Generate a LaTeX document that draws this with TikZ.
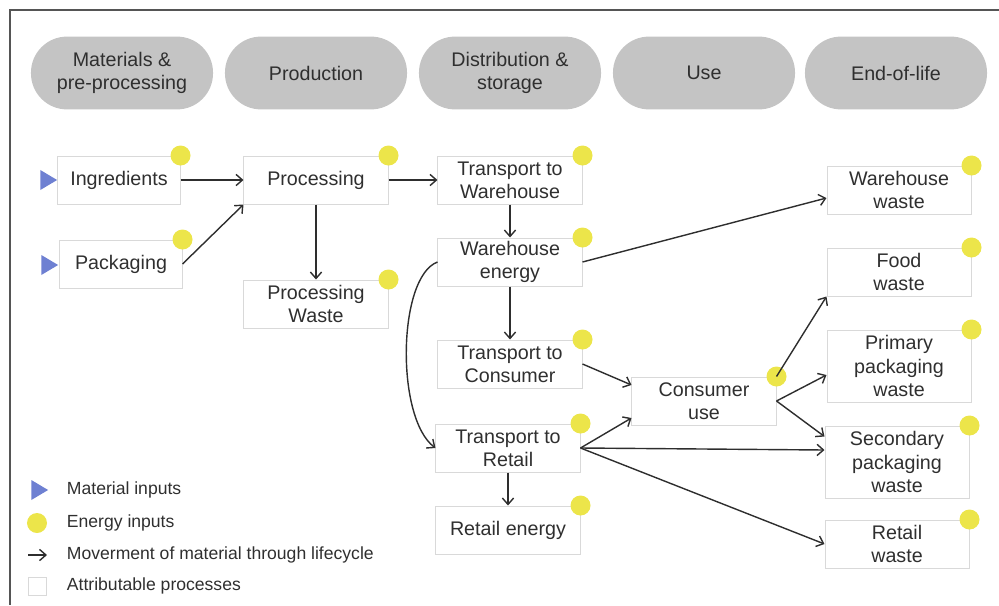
\documentclass[tikz,border=0pt]{standalone}
\usepackage{fontspec}
\setmainfont{Liberation Sans}
\usepackage{tikz}
\usetikzlibrary{arrows,arrows.meta,positioning,calc,shapes.geometric}

\definecolor{pillgray}{HTML}{C4C4C4}
\definecolor{boxgray}{HTML}{D9D9D9}
\definecolor{txtgray}{HTML}{2F2F2F}
\definecolor{linegray}{HTML}{2E2E2E}
\definecolor{framegray}{HTML}{555555}
\definecolor{dotyellow}{HTML}{ECE54A}
\definecolor{matblue}{HTML}{6E80D2}

\begin{document}
\begin{tikzpicture}[x=0.025cm, y=-0.025cm,
            every node/.style={text=txtgray, font=\fontsize{14}{16.6}\selectfont},
            phase/.style={fill=pillgray, rounded corners=0.9cm, minimum width=4.55cm,
                          minimum height=1.82cm, align=center},
            procbox/.style={draw=boxgray, line width=0.7pt, minimum width=3.6cm,
                            minimum height=1.2cm, align=center, inner sep=2pt},
            energy/.style={circle, fill=dotyellow, minimum size=0.5cm, inner sep=0pt},
            matin/.style={isosceles triangle, isosceles triangle stretches, fill=matblue,
                          minimum width=0.5cm, minimum height=0.42cm, inner sep=0pt},
            legtext/.style={anchor=west, font=\fontsize{12.5}{14}\selectfont},
            flow/.style={-{Straight Barb[length=1.6mm, width=2.8mm]}, draw=linegray,
                         line width=1pt}]
        \useasboundingbox (0,0) rectangle (999,605);
        \draw[framegray, line width=1.1pt] (999,10) -- (10,10) -- (10,605);

        % lifecycle stages
        \node[phase] (ph-mat) at (122,73) {Materials \&\\pre-processing};
        \node[phase] (ph-prod) at (316,73) {Production};
        \node[phase] (ph-dist) at (510,73) {Distribution \&\\storage};
        \node[phase] (ph-use) at (704,73) {Use};
        \node[phase] (ph-eol) at (896,73) {End-of-life};

        % processes
        \node[procbox, minimum width=3.05cm] (ingr) at (119,180) {Ingredients};
        \node[procbox, minimum width=3.05cm] (pack) at (121,264) {Packaging};
        \node[procbox] (processing) at (316,180) {Processing};
        \node[procbox] (pwaste) at (316,304) {Processing\\Waste};
        \node[procbox] (ttw) at (510,180) {Transport to\\Warehouse};
        \node[procbox] (we) at (510,262) {Warehouse\\energy};
        \node[procbox] (ttc) at (510,364) {Transport to\\Consumer};
        \node[procbox] (ttr) at (508,448) {Transport to\\Retail};
        \node[procbox] (re) at (508,530) {Retail energy};
        \node[procbox] (cu) at (704,401) {Consumer\\use};
        \node[procbox] (ww) at (899,190) {Warehouse\\waste};
        \node[procbox] (fw) at (899,272) {Food\\waste};
        \node[procbox, minimum height=1.8cm] (ppw) at (899,366) {Primary\\packaging\\waste};
        \node[procbox, minimum height=1.8cm] (spw) at (897,462) {Secondary\\packaging\\waste};
        \node[procbox] (rw) at (897,544) {Retail\\waste};

        % inputs
        \foreach \n in {ingr,pack,processing,pwaste,ttw,we,ttc,ttr,re,cu,ww,fw,ppw,spw,rw}
            \node[energy] (\n-e) at (\n.north east) {};
        \node[matin] (ingr-m) at (46,180) {};
        \node[matin] (pack-m) at (47,265) {};

        % flows
        \draw[flow] (ingr) -- (processing);
        \draw[flow] (pack.east) -- (processing.south west);
        \draw[flow] (processing) -- (ttw);
        \draw[flow] (processing) -- (pwaste);
        \draw[flow] (ttw) -- (we);
        \draw[flow] (we) -- (ttc);
        \draw[flow] (we.west) .. controls +(-40,15) and +(-40,-30) .. (ttr.west);
        \draw[flow] (we.east) -- ($(ww.west)+(0,8)$);
        \draw[flow] (ttc.east) -- ($(cu.west)+(0,-16)$);
        \draw[flow] (ttr.east) -- ($(cu.west)+(0,17)$);
        \draw[flow] (ttr.east) -- ($(spw.west)+(0,-12)$);
        \draw[flow] (ttr.east) -- (rw.west);
        \draw[flow] (ttr) -- (re);
        \draw[flow] (cu.north east) -- (fw.south west);
        \draw[flow] (cu.east) -- ($(ppw.west)+(0,9)$);
        \draw[flow] (cu.east) -- ($(spw.north west)+(0,11)$);

        % legend
        \node[matin] (leg-m) at (37,490) {};
        \node[legtext] (leg-mt) at (62,490) {Material inputs};
        \node[energy] (leg-e) at (37,523) {};
        \node[legtext] (leg-et) at (62,523) {Energy inputs};
        \coordinate (leg-a1) at (28,555);
        \coordinate (leg-a2) at (47,555);
        \draw[flow] (leg-a1) -- (leg-a2);
        \node[legtext] (leg-at) at (62,555) {Moverment of material through lifecycle};
        \node[draw=boxgray, line width=0.7pt, minimum size=0.45cm, inner sep=0pt] (leg-b) at (37,586) {};
        \node[legtext] (leg-bt) at (62,586) {Attributable processes};
\end{tikzpicture}
\end{document}
